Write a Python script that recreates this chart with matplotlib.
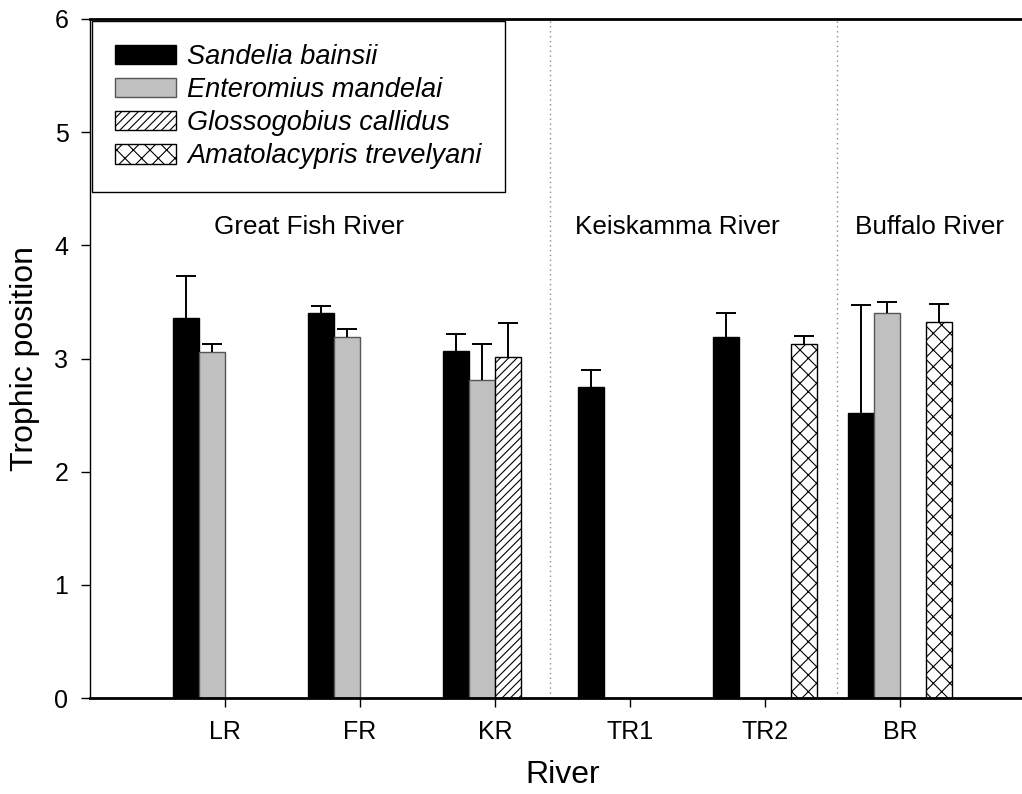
import numpy as np
import matplotlib
matplotlib.use("Agg")
import matplotlib.pyplot as plt
from matplotlib.patches import Patch

plt.rcParams['font.family'] = ['Liberation Sans', 'DejaVu Sans']
plt.rcParams['hatch.linewidth'] = 0.8

# Sampling sites and species
sites = ['LR', 'FR', 'KR', 'TR1', 'TR2', 'BR']
species = ['Sandelia bainsii', 'Enteromius mandelai',
           'Glossogobius callidus', 'Amatolacypris trevelyani']

nan = np.nan
sandelia = [3.36, 3.40, 3.07, 2.75, 3.19, 2.52]
sandelia_err = [0.37, 0.06, 0.15, 0.15, 0.21, 0.95]
enteromius = [3.06, 3.19, 2.81, nan, nan, 3.40]
enteromius_err = [0.07, 0.07, 0.32, nan, nan, 0.10]
glossogobius = [nan, nan, 3.01, nan, nan, nan]
glossogobius_err = [nan, nan, 0.30, nan, nan, nan]
amatolacypris = [nan, nan, nan, nan, 3.13, 3.32]
amatolacypris_err = [nan, nan, nan, nan, 0.07, 0.16]

rivers = ['Great Fish River', 'Keiskamma River', 'Buffalo River']
river_label_x = [0.62, 3.35, 5.22]
river_dividers = [2.407, 4.533]

means = [sandelia, enteromius, glossogobius, amatolacypris]
errors = [sandelia_err, enteromius_err, glossogobius_err, amatolacypris_err]
styles = [
    dict(facecolor='black', edgecolor='black', hatch=None, linewidth=1.0),
    dict(facecolor='#c0c0c0', edgecolor='#555555', hatch=None, linewidth=1.0),
    dict(facecolor='white', edgecolor='black', hatch='////', linewidth=1.0),
    dict(facecolor='white', edgecolor='black', hatch='xx', linewidth=1.0),
]

W, H = 1022, 794
fig = plt.figure(figsize=(W / 100, H / 100), dpi=100)
ax = fig.add_axes([90 / W, 96 / H, 1 - 90 / W, (698 - 19) / H])

bar_w = 0.193
x = np.arange(len(sites))
for i, (m, e, st) in enumerate(zip(means, errors, styles)):
    m = np.asarray(m, float)
    e = np.asarray(e, float)
    ok = ~np.isnan(m)
    xpos = x[ok] + (i - 1.5) * bar_w
    ax.bar(xpos, m[ok], width=bar_w, zorder=2, **st)
    cont = ax.errorbar(xpos, m[ok], yerr=[np.zeros(ok.sum()), e[ok]],
                       fmt='none', ecolor='black', elinewidth=1.4,
                       capsize=7, capthick=1.4, zorder=3)
    # upper error only: hide the caps sitting on the bar tops
    for cl in cont.lines[1]:
        if np.allclose(cl.get_ydata(), m[ok]):
            cl.set_visible(False)

for xd in river_dividers:
    ax.axvline(xd, color='#8a8a8a', linestyle=(0, (1, 2.5)), linewidth=1.0, zorder=1)

for name, xr in zip(rivers, river_label_x):
    ax.text(xr, 4.165, name, ha='center', va='center', fontsize=18.8)

ax.set_xlim(-1.0, (W - 225) / 135)
ax.set_ylim(0, 6)
ax.set_xticks(x)
ax.set_xticklabels(sites)
ax.set_yticks(range(0, 7))
ax.tick_params(axis='both', direction='out', length=6.5, width=1.0,
               labelsize=18, pad=9, color='black')

for side in ['top', 'bottom']:
    ax.spines[side].set_linewidth(2.0)
ax.spines['left'].set_linewidth(1.0)
ax.spines['right'].set_visible(False)

ax.set_xlabel('River', fontsize=23)
ax.xaxis.set_label_coords(0.5075, -0.1134)
ax.xaxis.label.set_va('center')
ax.set_ylabel('Trophic position', fontsize=23, va='center')
ax.yaxis.set_label_coords(-0.0697, 0.5)

handles = [Patch(label=s, **st) for s, st in zip(species, styles)]
leg = fig.legend(handles=handles, loc='upper left',
                 bbox_to_anchor=(92 / W, 1 - 21 / H), borderaxespad=0,
                 prop={'style': 'italic', 'size': 19.5},
                 handlelength=2.25, handleheight=0.74, handletextpad=0.42,
                 labelspacing=0.26, borderpad=0.85, fancybox=False,
                 framealpha=1, edgecolor='black')
leg.get_frame().set_linewidth(1.0)

fig.savefig('out.png', dpi=100)
